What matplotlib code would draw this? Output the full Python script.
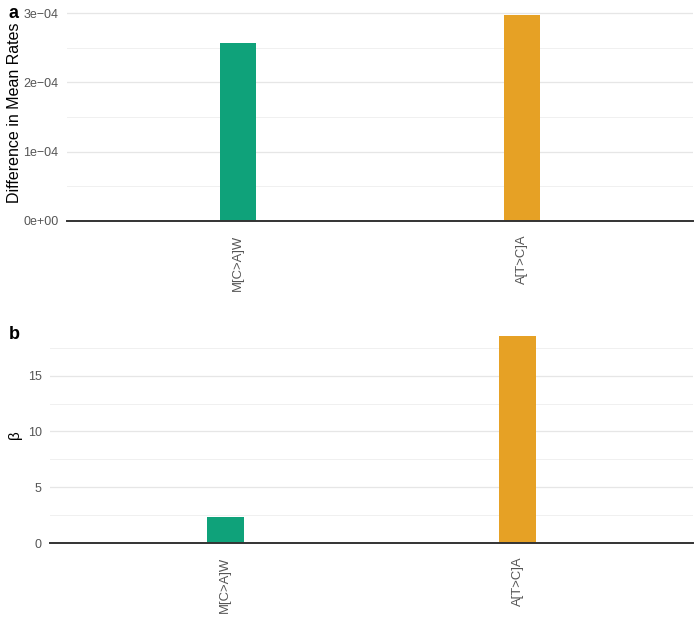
import numpy as np
import matplotlib.pyplot as plt
import matplotlib.transforms as mtransforms
from matplotlib.ticker import FixedLocator, MultipleLocator

plt.rcParams['font.family'] = ['Liberation Sans', 'DejaVu Sans']

categories = ['M[C>A]W', 'A[T>C]A']
colors = ['#0fa27a', '#e6a125']
diff_rates = [2.57e-4, 2.97e-4]
beta = [2.31, 18.53]
a_ticks = [0, 1e-4, 2e-4, 3e-4]
a_labels = ['0e+00', '1e\u221204', '2e\u221204', '3e\u221204']
b_ticks = [0, 5, 10, 15]

fig = plt.figure(figsize=(7, 6.22), dpi=100)
ax1 = fig.add_axes([0.0957, 0.6447, 0.8943, 0.3473])
ax2 = fig.add_axes([0.0714, 0.127, 0.9186, 0.349])

def style(ax, vals, ticks, minor):
    x = np.arange(1, len(categories) + 1)
    ax.bar(x, vals, width=0.127, color=colors, zorder=3)
    ax.set_xlim(0.4, 2.6)
    ax.set_ylim(0, max(vals) * 1.05)
    ax.yaxis.set_major_locator(FixedLocator(ticks))
    ax.yaxis.set_minor_locator(MultipleLocator(minor))
    ax.grid(axis='y', which='major', color='#e6e6e6', lw=0.9, zorder=0)
    ax.grid(axis='y', which='minor', color='#f0f0f0', lw=0.7, zorder=0)
    for s in ['top', 'right', 'left']:
        ax.spines[s].set_visible(False)
    ax.spines['bottom'].set_color('#333333')
    ax.spines['bottom'].set_linewidth(1.4)
    ax.spines['bottom'].set_zorder(4)
    ax.set_xticks(x)
    ax.set_xticklabels(categories, rotation=90, ha='center', va='top',
                       color='#555555', fontsize=9.4)
    ax.tick_params(axis='x', which='both', length=0, pad=10)
    ax.tick_params(axis='y', which='both', length=0)
    ax.tick_params(axis='y', labelsize=9, labelcolor='#555555', pad=6)

style(ax1, diff_rates, a_ticks, 0.5e-4)
ax1.set_yticklabels(a_labels)
ax1.set_ylabel('Difference in Mean Rates', fontsize=11.5, va='center')
ax1.yaxis.set_label_coords(
    0.021, 0.5, transform=mtransforms.blended_transform_factory(fig.transFigure, ax1.transAxes))

style(ax2, beta, b_ticks, 2.5)
ax2.set_ylabel('\u03b2', fontsize=11, va='center')
ax2.yaxis.set_label_coords(
    0.021, 0.5, transform=mtransforms.blended_transform_factory(fig.transFigure, ax2.transAxes))

fig.text(0.012, 0.978, 'a', fontsize=13, fontweight='bold', va='center')
fig.text(0.012, 0.463, 'b', fontsize=13, fontweight='bold', va='center')

fig.savefig('out.png', dpi=100)
